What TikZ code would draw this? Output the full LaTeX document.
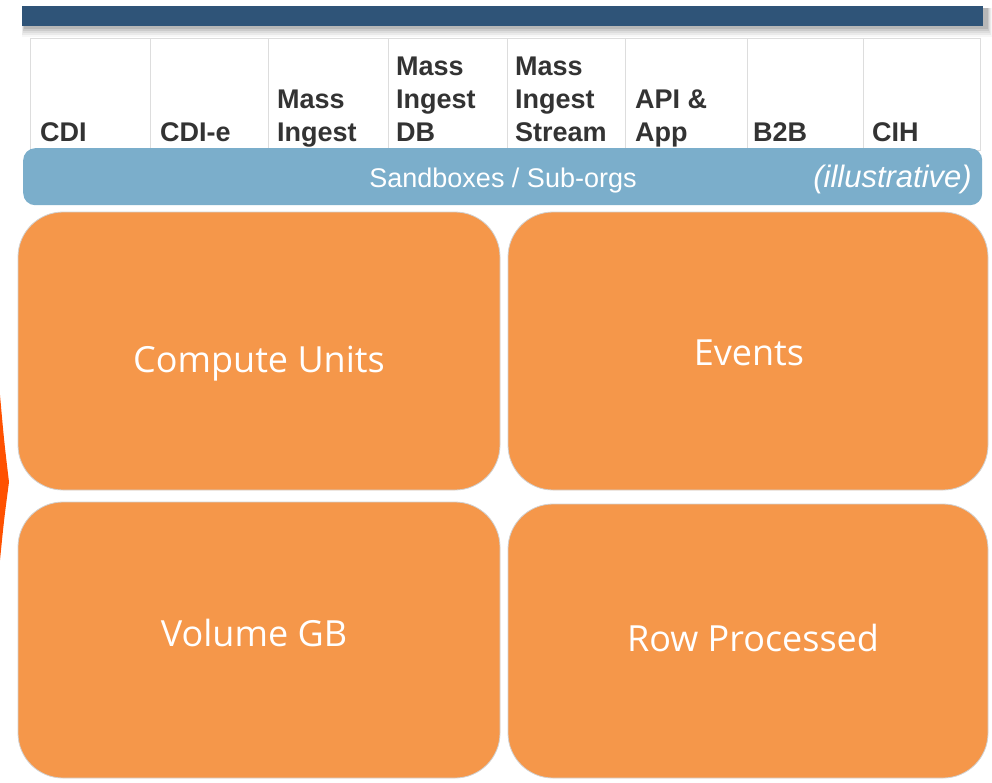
\documentclass[tikz,border=0pt]{standalone}
\usepackage{fontspec}
\setmainfont{Liberation Sans}
\newfontfamily\boxfont{Open Sans}
\definecolor{darkbar}{HTML}{2F5478}
\definecolor{sbblue}{HTML}{7BAECB}
\definecolor{orangebox}{HTML}{F5974A}
\definecolor{chev}{HTML}{FF5100}
\definecolor{celltext}{HTML}{333333}
\definecolor{cellline}{HTML}{DDDDDD}
\newcommand\ctab[1]{\begin{tabular}[b]{@{}l@{}}#1\end{tabular}}
\tikzset{
  cellbox/.style={draw=cellline, line width=1pt, fill=white, minimum height=112pt, inner sep=0pt, anchor=north west},
  celltxt/.style={anchor=base west, inner sep=0pt, text=celltext, font=\bfseries\fontsize{27}{33}\selectfont},
  orbox/.style={fill=orangebox, draw=black!18, line width=0.8pt, rounded corners=45pt, inner sep=0pt},
  ortxt/.style={anchor=base, inner sep=0pt, text=white, font=\boxfont\fontsize{36}{40}\selectfont},
  sbtxt/.style={anchor=base, inner sep=0pt, text=white, font=\fontsize{27}{30}\selectfont},
}
\begin{document}
\begin{tikzpicture}[x=1pt,y=-1pt]
\useasboundingbox (0,0) rectangle (992,782);
% shadow of top bar
\foreach \d/\o in {0/0.10,2/0.08,4/0.06,6/0.05,8/0.03}{
  \fill[black,opacity=\o] (24-\d*0.3,8) rectangle (988+\d*0.5,29+\d);
}
\node[fill=darkbar, inner sep=0pt, minimum width=961pt, minimum height=20pt, anchor=north west] (topbar) at (22,6) {};
% table cells
\node[cellbox, minimum width=120pt] (c1) at (30,38) {};
\node[cellbox, minimum width=118pt] (c2) at (150,38) {};
\node[cellbox, minimum width=120pt] (c3) at (268,38) {};
\node[cellbox, minimum width=119pt] (c4) at (388,38) {};
\node[cellbox, minimum width=118pt] (c5) at (507,38) {};
\node[cellbox, minimum width=122pt] (c6) at (625,38) {};
\node[cellbox, minimum width=116pt] (c7) at (747,38) {};
\node[cellbox, minimum width=117pt] (c8) at (863,38) {};
\node[celltxt] (t1) at (40,141) {\ctab{CDI}};
\node[celltxt] (t2) at (160,141) {\ctab{CDI-e}};
\node[celltxt] (t3) at (277,141) {\ctab{Mass\\Ingest}};
\node[celltxt] (t4) at (396,141) {\ctab{Mass\\Ingest\\DB}};
\node[celltxt] (t5) at (515,141) {\ctab{Mass\\Ingest\\Stream}};
\node[celltxt] (t6) at (635,141) {\ctab{API \&\\App}};
\node[celltxt] (t7) at (753,141) {\ctab{B2B}};
\node[celltxt] (t8) at (872,141) {\ctab{CIH}};
% sandbox bar
\node[fill=sbblue, rounded corners=12pt, inner sep=0pt, minimum width=959pt, minimum height=57pt, anchor=north west] (sb) at (23,148) {};
\node[sbtxt] (sbt) at (503,187) {Sandboxes / Sub-orgs};
\node[sbtxt, anchor=base east, font=\itshape\fontsize{31}{34}\selectfont] (ill) at (972,187) {(illustrative)};
% orange boxes
\node[orbox, minimum width=482pt, minimum height=278pt] (cu) at (259,351) {};
\node[orbox, minimum width=480pt, minimum height=278pt] (ev) at (748,351) {};
\node[orbox, minimum width=482pt, minimum height=276pt] (vg) at (259,640) {};
\node[orbox, minimum width=480pt, minimum height=274pt] (rp) at (748,641) {};
\node[ortxt] (cut) at (259,372) {Compute Units};
\node[ortxt] (evt) at (749,365) {Events};
\node[ortxt] (vgt) at (254,646) {Volume GB};
\node[ortxt] (rpt) at (753,651) {Row Processed};
% chevron at left edge
\fill[chev] (-3,395) -- (0,395) .. controls (4,440) .. (9,482) .. controls (4,520) .. (0,560) -- (-3,560) -- cycle;
\end{tikzpicture}
\end{document}
